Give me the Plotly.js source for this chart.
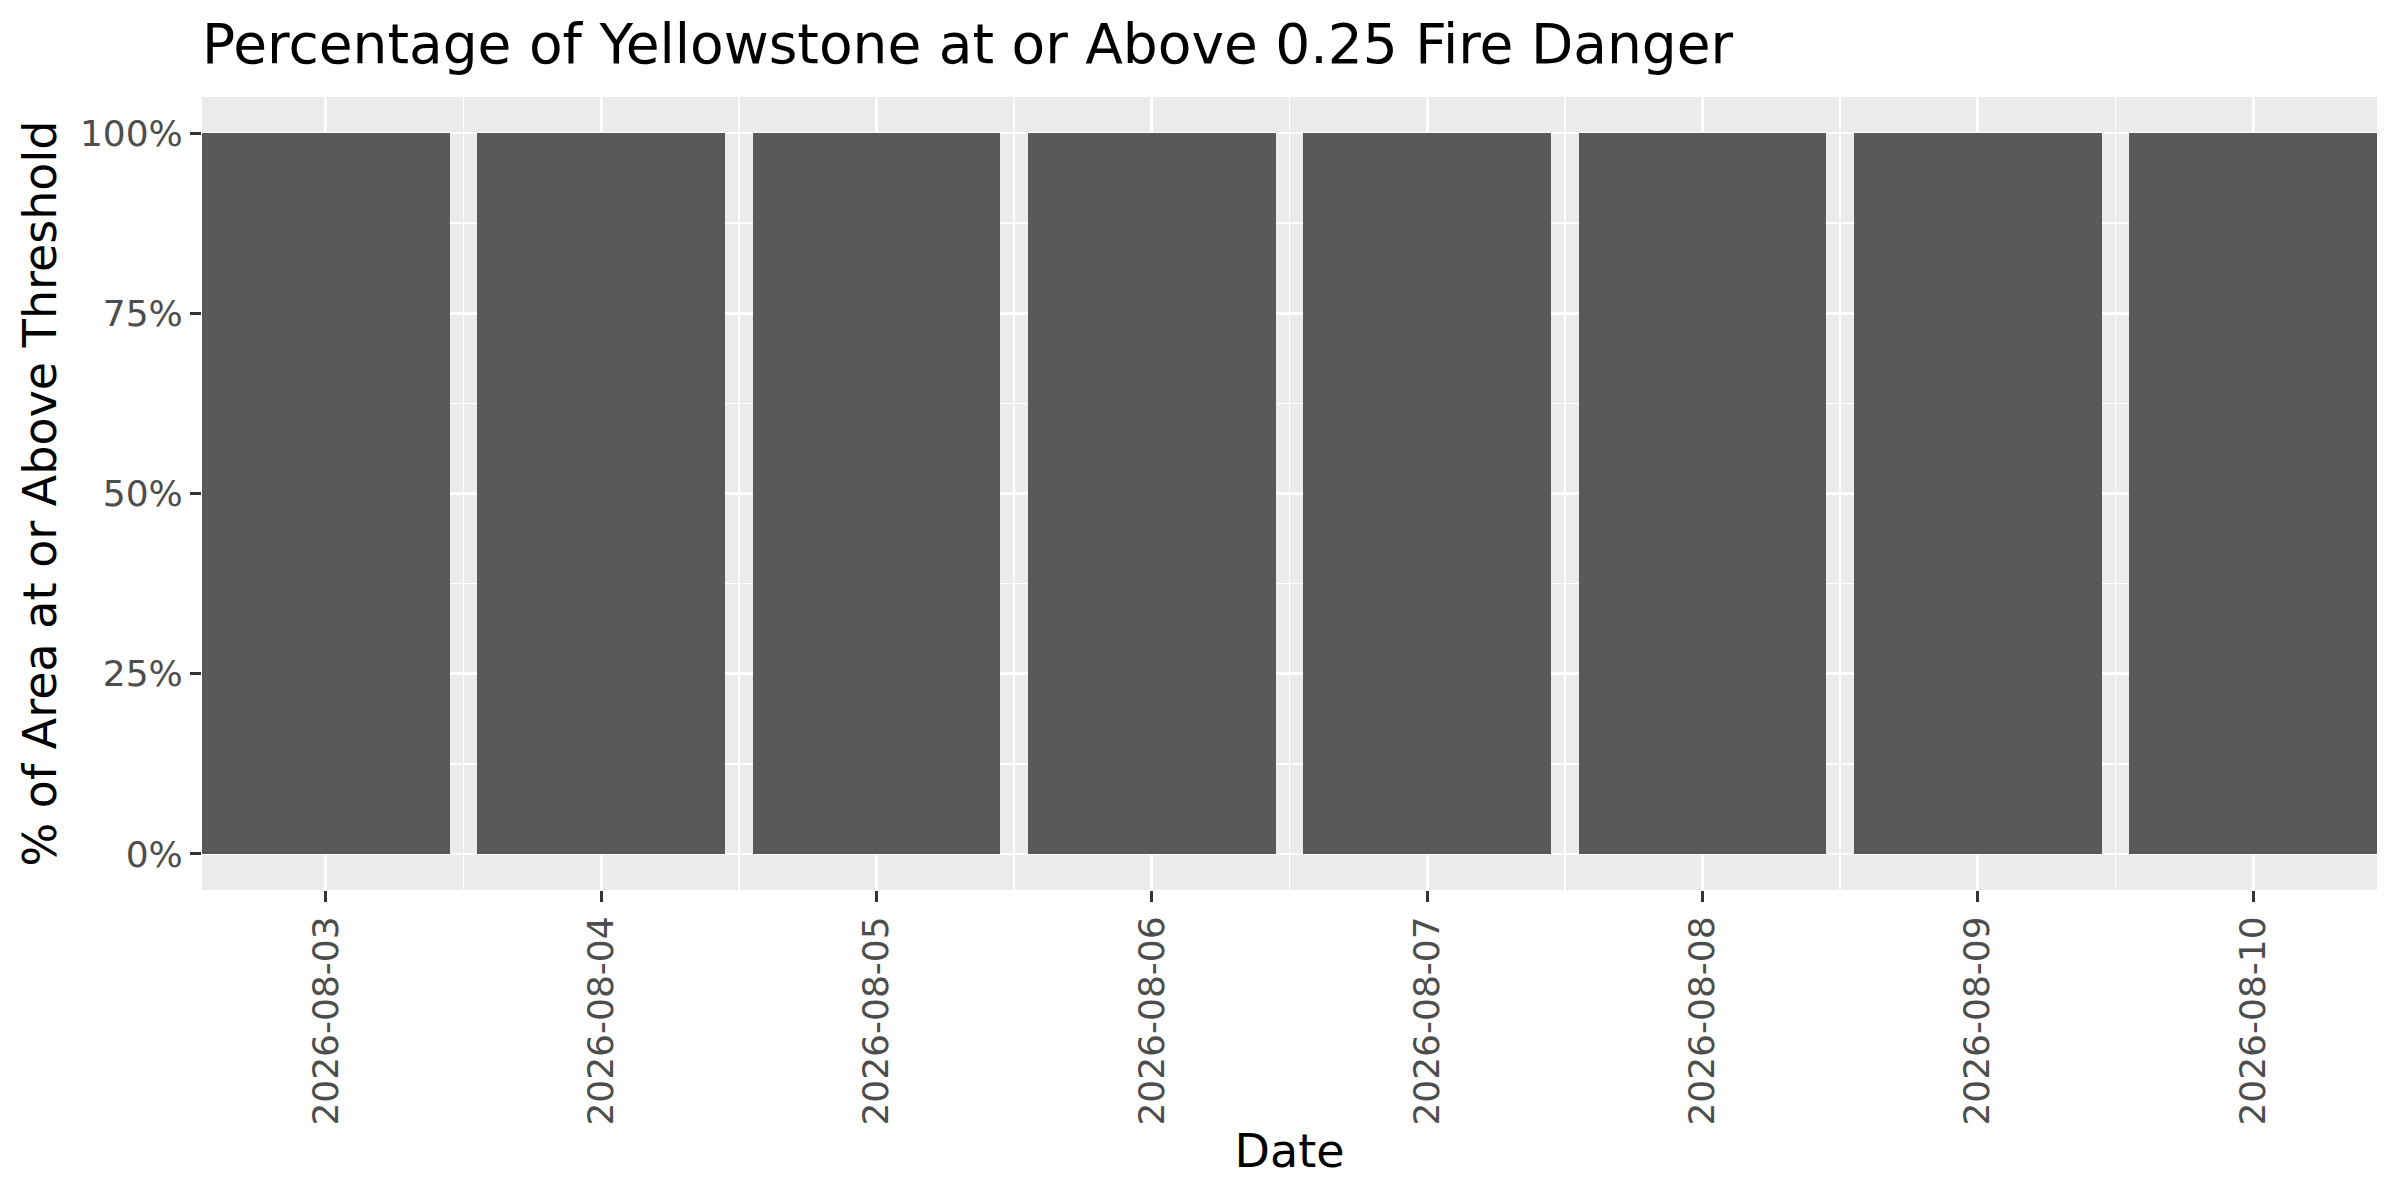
<!DOCTYPE html>
<html>
<head>
<meta charset="utf-8">
<script src="https://cdn.plot.ly/plotly-3.0.1.min.js"></script>
<style>html,body{margin:0;padding:0;background:#fff}#chart{width:2400px;height:1200px}</style>
</head>
<body>
<div id="chart"></div>
<script>
const dates = ["2026-08-03","2026-08-04","2026-08-05","2026-08-06","2026-08-07","2026-08-08","2026-08-09","2026-08-10"];
const pctValues = [100, 100, 100, 100, 100, 100, 100, 100];
const yTickVals = [0, 25, 50, 75, 100];
const yTickText = ["0%", "25%", "50%", "75%", "100%"];

const xIdx = dates.map((d, i) => i + 1);

const trace = {
  type: 'bar',
  x: xIdx,
  y: pctValues,
  width: 0.9,
  marker: {color: '#595959', line: {width: 0}},
  hoverinfo: 'skip'
};

const font = 'DejaVu Sans, sans-serif';
const layout = {
  width: 2400, height: 1200,
  paper_bgcolor: '#ffffff',
  plot_bgcolor: '#EBEBEB',
  margin: {l: 202, r: 23, t: 97, b: 310, pad: 0},
  showlegend: false,
  bargap: 0,
  title: {
    text: 'Percentage of Yellowstone at or Above 0.25 Fire Danger',
    font: {family: font, size: 55, color: '#000000'},
    xref: 'paper', x: 0, xanchor: 'left',
    yref: 'container', y: 1 - 44/1200, yanchor: 'middle'
  },
  xaxis: {
    range: [0.55, 8.45],
    tickmode: 'array',
    tickvals: xIdx,
    ticktext: dates,
    tickangle: -90,
    ticks: 'outside', ticklen: 11, tickwidth: 3, tickcolor: '#333333',
    tickfont: {family: font, size: 36, color: '#4D4D4D'},
    showgrid: true, gridcolor: '#FFFFFF', gridwidth: 2.8,
    minor: {dtick: 1, tick0: 0.5, showgrid: true, gridcolor: '#FFFFFF', gridwidth: 1.4, ticks: ''},
    zeroline: false, showline: false,
    title: {text: 'Date', font: {family: font, size: 46, color: '#000000'}, standoff: 10}
  },
  yaxis: {
    range: [-5, 105],
    tickmode: 'array',
    tickvals: yTickVals,
    ticktext: yTickText,
    ticks: 'outside', ticklen: 11, tickwidth: 3, tickcolor: '#333333',
    tickfont: {family: font, size: 36, color: '#4D4D4D'},
    showgrid: true, gridcolor: '#FFFFFF', gridwidth: 2.8,
    minor: {dtick: 12.5, tick0: 0, showgrid: true, gridcolor: '#FFFFFF', gridwidth: 1.4, ticks: ''},
    zeroline: false, showline: false,
    title: {text: '% of Area at or Above Threshold', font: {family: font, size: 46, color: '#000000'}, standoff: 8}
  }
};

Plotly.newPlot('chart', [trace], layout, {displayModeBar: false, staticPlot: true});
</script>
</body>
</html>
